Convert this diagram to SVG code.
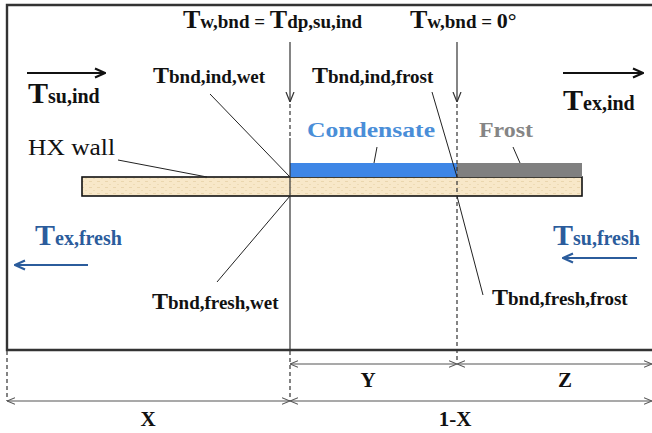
<svg xmlns="http://www.w3.org/2000/svg" width="652" height="433" viewBox="0 0 652 433">
<style>
text{font-family:"Liberation Serif","Times New Roman",serif;font-weight:bold;fill:#111}
.b24{font-size:24px}.s19{font-size:19px}
.b30{font-size:30px}.s20{font-size:20px}
.blue{fill:#2b5c9c}
.lead{stroke:#222;stroke-width:1;fill:none}
.dim{stroke:#555;stroke-width:1.2;fill:none}
.dash{stroke:#333;stroke-width:1.2;stroke-dasharray:4 3;fill:none}
.vs{stroke:#333;stroke-width:1.2;fill:none}
</style>
<defs>
<marker id="vopen" viewBox="0 0 10 10" refX="10" refY="5" markerWidth="10" markerHeight="10" markerUnits="userSpaceOnUse" orient="auto">
<path d="M0,1 L10,5 L0,9" fill="none" stroke="#333" stroke-width="1.2"/>
</marker>
<marker id="dimA" viewBox="0 0 10 10" refX="10" refY="5" markerWidth="8" markerHeight="8" markerUnits="userSpaceOnUse" orient="auto-start-reverse">
<path d="M0,1 L10,5 L0,9" fill="none" stroke="#555" stroke-width="1.3"/>
</marker>
<marker id="bigA" viewBox="0 0 12 12" refX="11" refY="6" markerWidth="12" markerHeight="12" markerUnits="userSpaceOnUse" orient="auto">
<path d="M1,1.5 L11,6 L1,10.5" fill="none" stroke="#111" stroke-width="2.2"/>
</marker>
<marker id="blueA" viewBox="0 0 12 12" refX="11" refY="6" markerWidth="12" markerHeight="12" markerUnits="userSpaceOnUse" orient="auto">
<path d="M1,1.5 L11,6 L1,10.5" fill="none" stroke="#2b5c9c" stroke-width="2.2"/>
</marker>
<pattern id="tex" width="8" height="6" patternUnits="userSpaceOnUse">
<rect width="8" height="6" fill="#f8e8c9"/>
<rect x="1" y="1" width="3" height="1" fill="#ead6ae"/>
<rect x="5" y="4" width="2" height="1" fill="#eedcb6"/>
</pattern>
</defs>

<g id="frame">
<path d="M652,5 L7,5 L7,350 L652,350" fill="none" stroke="#333" stroke-width="2.4"/>
</g>

<g id="wall">
<rect x="82" y="177" width="500" height="19" fill="url(#tex)" stroke="#111" stroke-width="1.6"/>
</g>
<g id="condensate-layer">
<rect x="290" y="163" width="167" height="14" fill="#3e86e6"/>
</g>
<g id="frost-layer">
<rect x="457" y="163" width="125" height="14" fill="#808080"/>
</g>

<g id="connectors">
<line class="vs" x1="290" y1="42" x2="290" y2="102" marker-end="url(#vopen)"/>
<line class="dash" x1="290" y1="104" x2="290" y2="138"/>
<line class="vs" x1="290" y1="138" x2="290" y2="350"/>
<line class="vs" x1="457" y1="42" x2="457" y2="102" marker-end="url(#vopen)"/>
<line class="dash" x1="457" y1="104" x2="457" y2="363"/>
<line class="dash" x1="7" y1="351" x2="7" y2="401"/>
<line class="dash" x1="290" y1="351" x2="290" y2="401"/>
<line class="dim" x1="290" y1="364" x2="457" y2="364" marker-start="url(#dimA)" marker-end="url(#dimA)"/>
<line class="dim" x1="457" y1="364" x2="652" y2="364" marker-start="url(#dimA)" marker-end="url(#dimA)"/>
<line class="dim" x1="7" y1="401" x2="290" y2="401" marker-start="url(#dimA)" marker-end="url(#dimA)"/>
<line class="dim" x1="290" y1="401" x2="652" y2="401" marker-start="url(#dimA)" marker-end="url(#dimA)"/>
<line class="lead" x1="118" y1="160" x2="207" y2="177"/>
<line class="lead" x1="210" y1="94" x2="290" y2="177"/>
<line class="lead" x1="217" y1="282" x2="290" y2="196"/>
<line class="lead" x1="432" y1="92" x2="457" y2="177"/>
<line class="lead" x1="457" y1="196" x2="483" y2="295"/>
<line class="lead" x1="377" y1="147" x2="374" y2="163" stroke="#4a8ed8"/>
<line class="lead" x1="513" y1="147" x2="520" y2="163" stroke="#888"/>
<line x1="27" y1="73" x2="105" y2="73" stroke="#111" stroke-width="2.2" marker-end="url(#bigA)"/>
<line x1="563" y1="73" x2="643" y2="73" stroke="#111" stroke-width="2.2" marker-end="url(#bigA)"/>
<line x1="88" y1="265" x2="15" y2="265" stroke="#2b5c9c" stroke-width="2.2" marker-end="url(#blueA)"/>
<line x1="637" y1="258" x2="563" y2="258" stroke="#2b5c9c" stroke-width="2.2" marker-end="url(#blueA)"/>
</g>

<g id="label-tw-dp">
<text x="183" y="28"><tspan class="b24" style="font-size:26px">T</tspan><tspan class="s19">w,bnd = </tspan><tspan style="font-size:26px">T</tspan><tspan class="s19">dp,su,ind</tspan></text>
</g>
<g id="label-tw-0">
<text x="410" y="28"><tspan style="font-size:26px">T</tspan><tspan class="s19">w,bnd = </tspan><tspan style="font-size:22px">0°</tspan></text>
</g>
<g id="label-tsu-ind">
<text x="28" y="103"><tspan class="b30">T</tspan><tspan class="s20">su,ind</tspan></text>
</g>
<g id="label-tex-ind">
<text x="563" y="110"><tspan class="b30">T</tspan><tspan class="s20">ex,ind</tspan></text>
</g>
<g id="label-tbnd-ind-wet">
<text x="153" y="83"><tspan class="b24">T</tspan><tspan class="s19">bnd,ind,wet</tspan></text>
</g>
<g id="label-tbnd-ind-frost">
<text x="312" y="83"><tspan class="b24">T</tspan><tspan class="s19">bnd,ind,frost</tspan></text>
</g>
<g id="label-hx-wall">
<text x="28" y="155" style="font-weight:normal;font-size:23px" textLength="87" lengthAdjust="spacingAndGlyphs">HX wall</text>
</g>
<g id="label-condensate">
<text x="307" y="137" style="font-size:22px;fill:#4a8ed8" textLength="128" lengthAdjust="spacingAndGlyphs">Condensate</text>
</g>
<g id="label-frost">
<text x="479" y="137" style="font-size:22px;fill:#858585" textLength="54" lengthAdjust="spacingAndGlyphs">Frost</text>
</g>
<g id="label-tex-fresh">
<text x="35" y="245" class="blue"><tspan class="b30 blue">T</tspan><tspan class="s20 blue">ex,fresh</tspan></text>
</g>
<g id="label-tsu-fresh">
<text x="553" y="245" class="blue"><tspan class="b30 blue">T</tspan><tspan class="s20 blue">su,fresh</tspan></text>
</g>
<g id="label-tbnd-fresh-wet">
<text x="152" y="309"><tspan class="b24">T</tspan><tspan class="s19">bnd,fresh,wet</tspan></text>
</g>
<g id="label-tbnd-fresh-frost">
<text x="492" y="305"><tspan class="b24">T</tspan><tspan class="s19">bnd,fresh,frost</tspan></text>
</g>
<g id="label-Y"><text x="368" y="387" text-anchor="middle" style="font-size:21px">Y</text></g>
<g id="label-Z"><text x="565" y="387" text-anchor="middle" style="font-size:21px">Z</text></g>
<g id="label-X"><text x="148" y="426" text-anchor="middle" style="font-size:21px">X</text></g>
<g id="label-1-X"><text x="455" y="426" text-anchor="middle" style="font-size:21px">1-X</text></g>
</svg>
